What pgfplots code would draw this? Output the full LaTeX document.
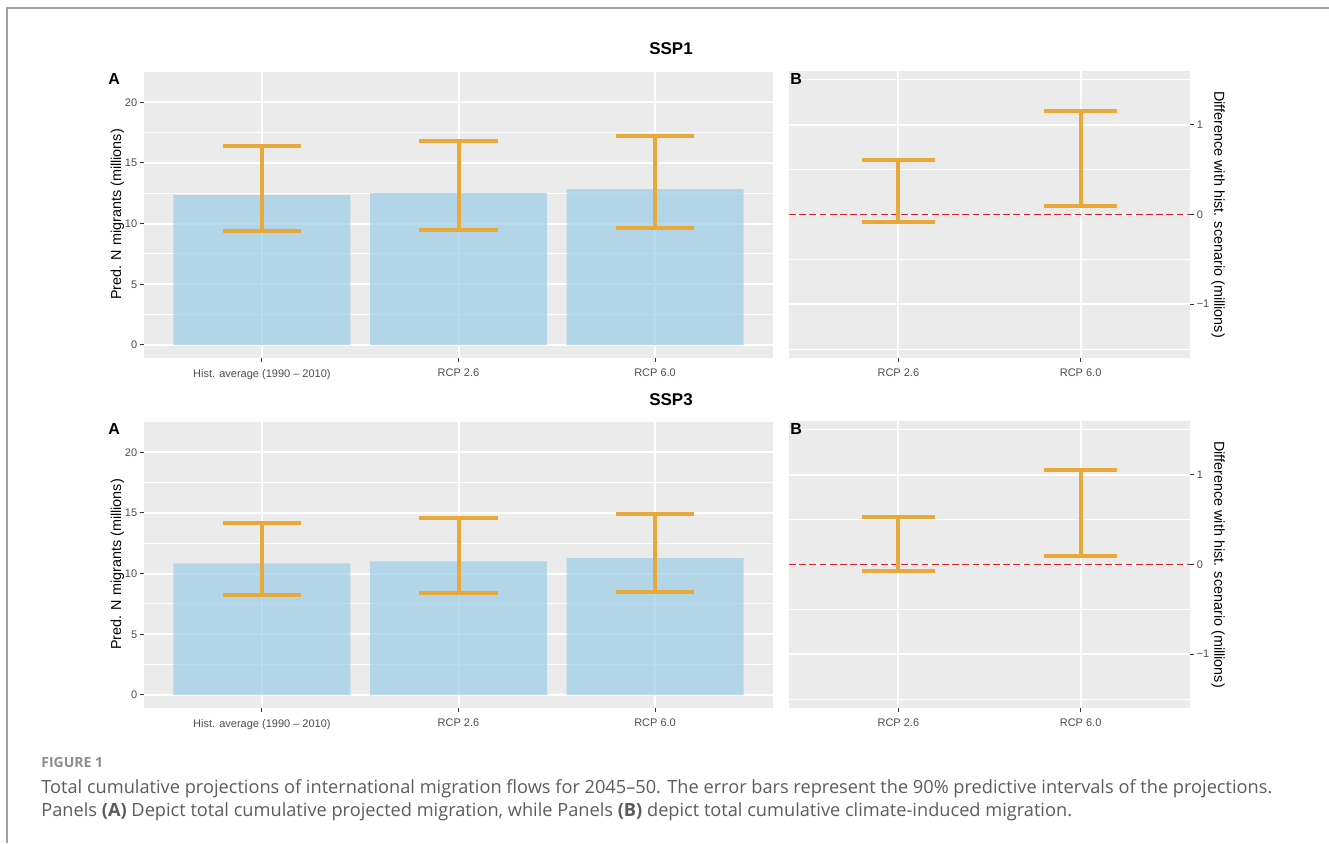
\documentclass[border=0pt]{standalone}
\usepackage{pgfplots}
\pgfplotsset{compat=1.18}
\usepackage{pgfplotstable}
\usepackage{fontspec}
\setmainfont{Liberation Sans}
\newfontfamily\capfont{Open Sans}
\definecolor{ggbg}{HTML}{EBEBEB}
\definecolor{tickc}{HTML}{333333}
\definecolor{ticktext}{HTML}{4D4D4D}
\definecolor{barc}{RGB}{156,204,231}
\definecolor{errc}{RGB}{232,168,58}
\definecolor{framec}{HTML}{A0A0A0}
\definecolor{capc}{HTML}{5C5C5C}
\definecolor{figc}{HTML}{8C8C8C}
\definecolor{zeroc}{RGB}{230,25,35}

% Panel A data: x, bar height, lower and upper 90% bound
\pgfplotstableread{
x bar lo hi
0 12.35 9.38 16.37
1 12.52 9.46 16.78
2 12.85 9.63 17.19
}\sspOneA
\pgfplotstableread{
x bar lo hi
0 10.84 8.23 14.16
1 11.00 8.37 14.57
2 11.28 8.50 14.95
}\sspThreeA
% Panel B data: difference with hist. scenario
\pgfplotstableread{
x lo hi
1 -0.085 0.613
2 0.096 1.151
}\sspOneB
\pgfplotstableread{
x lo hi
1 -0.074 0.535
2 0.100 1.052
}\sspThreeB
\pgfplotstableread{
x y
0.4 0
2.6 0
}\zeroref

\pgfplotsset{
  ggbase/.style={
    scale only axis,
    anchor=south west,
    axis background/.style={fill=ggbg},
    axis line style={draw=none},
    tick align=outside,
    major tick length=2pt,
    minor tick length=0pt,
    tick style={draw=tickc, line width=0.5pt},
    xmajorgrids, ymajorgrids, yminorgrids,
    major grid style={draw=white, line width=1pt},
    minor grid style={draw=white, line width=0.5pt},
    xtick pos=bottom,
    tick label style={font=\fontsize{5.5pt}{6pt}\selectfont, text=ticktext},
    yticklabel style={inner sep=1.2pt},
    label style={font=\fontsize{7.2pt}{8pt}\selectfont, text=black},
  },
  ggA/.style={
    ggbase,
    width=314.5pt, height=143.5pt,
    xmin=-0.6, xmax=2.6, ymin=-1.075, ymax=22.575,
    xtick={0,1,2},
    xticklabels={Hist. average (1990 – 2010), RCP 2.6, RCP 6.0},
    ytick={0,5,10,15,20},
    yticklabels={0,5,10,15,20},
    minor ytick={2.5,7.5,12.5,17.5,22.5},
    ytick pos=left,
    ylabel={Pred. N migrants (millions)},
    ylabel style={at={(axis description cs:0,0.5)}, anchor=center, yshift=13.3pt},
  },
  ggB/.style={
    ggbase,
    width=200.5pt, height=143.5pt,
    xmin=0.4, xmax=2.6, ymin=-1.6, ymax=1.6,
    xtick={1,2},
    xticklabels={RCP 2.6, RCP 6.0},
    ytick={-1,0,1},
    yticklabels={−1,0,1},
    minor ytick={-1.5,-0.5,0.5,1.5},
    ytick pos=right, yticklabel pos=right,
    ylabel={Difference with hist. scenario (millions)},
    ylabel style={at={(axis description cs:1,0.5)}, anchor=center, rotate=180, yshift=14pt},
  },
  barplot/.style={ybar, bar width=0.9, fill=barc, fill opacity=0.7, draw=none},
  errplot/.style={draw=none, mark=none,
    error bars/.cd, y dir=both, y explicit,
    error bar style={draw=errc, line width=2pt, solid},
    error mark options={draw=errc, line width=2pt, mark size=#1, rotate=90, solid}},
  zeroline/.style={draw=zeroc, line width=0.95pt, dash pattern=on 3.4pt off 1.7pt, mark=none},
}

\begin{document}
\begin{tikzpicture}
\useasboundingbox (0,0) rectangle (664.5pt,421.5pt);
\draw[framec, line width=1pt] (3.5pt,0pt) -- (3.5pt,417.5pt) -- (664.5pt,417.5pt);

% ---------------- SSP1 ----------------
\begin{axis}[ggA, at={(72pt,242.5pt)}]
\addplot[barplot] table[x=x, y=bar] {\sspOneA};
\addplot[errplot=19.66pt] table[x=x, y expr=(\thisrow{lo}+\thisrow{hi})/2, y error expr=(\thisrow{hi}-\thisrow{lo})/2] {\sspOneA};
\end{axis}
\begin{axis}[ggB, at={(394.5pt,242.5pt)}]
\addplot[zeroline] table[x=x, y=y] {\zeroref};
\addplot[errplot=18.23pt] table[x=x, y expr=(\thisrow{lo}+\thisrow{hi})/2, y error expr=(\thisrow{hi}-\thisrow{lo})/2] {\sspOneB};
\end{axis}

% ---------------- SSP3 ----------------
\begin{axis}[ggA, at={(72pt,67.5pt)}]
\addplot[barplot] table[x=x, y=bar] {\sspThreeA};
\addplot[errplot=19.66pt] table[x=x, y expr=(\thisrow{lo}+\thisrow{hi})/2, y error expr=(\thisrow{hi}-\thisrow{lo})/2] {\sspThreeA};
\end{axis}
\begin{axis}[ggB, at={(394.5pt,67.5pt)}]
\addplot[zeroline] table[x=x, y=y] {\zeroref};
\addplot[errplot=18.23pt] table[x=x, y expr=(\thisrow{lo}+\thisrow{hi})/2, y error expr=(\thisrow{hi}-\thisrow{lo})/2] {\sspThreeB};
\end{axis}

% titles and tags
\node[anchor=base, inner sep=0pt, font=\fontsize{8.5pt}{9pt}\selectfont\bfseries] at (335.5pt,394pt) {SSP1};
\node[anchor=base, inner sep=0pt, font=\fontsize{8.5pt}{9pt}\selectfont\bfseries] at (335.5pt,219pt) {SSP3};
\node[anchor=base west, inner sep=0pt, font=\fontsize{8pt}{9pt}\selectfont\bfseries] at (54pt,379.35pt) {A};
\node[anchor=base west, inner sep=0pt, font=\fontsize{8pt}{9pt}\selectfont\bfseries] at (395pt,379.35pt) {B};
\node[anchor=base west, inner sep=0pt, font=\fontsize{8pt}{9pt}\selectfont\bfseries] at (54pt,204.35pt) {A};
\node[anchor=base west, inner sep=0pt, font=\fontsize{8pt}{9pt}\selectfont\bfseries] at (395pt,204.35pt) {B};

% caption
\node[anchor=base west, inner sep=0pt, text=figc, font=\capfont\fontsize{7pt}{8pt}\selectfont\bfseries] at (20.5pt,38pt) {FIGURE 1};
\node[anchor=base west, inner sep=0pt, text=capc, font=\capfont\fontsize{9.1pt}{11pt}\selectfont] at (20.5pt,25pt) {Total cumulative projections of international migration flows for 2045–50. The error bars represent the 90\% predictive intervals of the projections.};
\node[anchor=base west, inner sep=0pt, text=capc, font=\capfont\fontsize{9.1pt}{11pt}\selectfont] at (20.5pt,13.5pt) {Panels \textbf{(A)} Depict total cumulative projected migration, while Panels \textbf{(B)} depict total cumulative climate-induced migration.};
\end{tikzpicture}
\end{document}
